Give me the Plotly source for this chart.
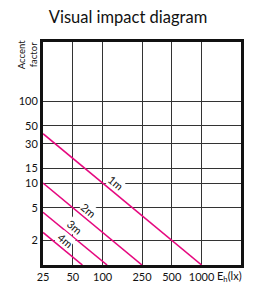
import math
import plotly.graph_objects as go

# ---- data ----
distances = ["1m", "2m", "3m", "4m"]
illum_start = [25, 25, 25, 25]
accent_start = [40, 10, 4.4, 2.5]
illum_end = [1000, 250, 111, 62.5]
accent_end = [1, 1, 1, 1]

x_tickvals = [25, 50, 100, 250, 500, 1000]
x_ticktext = ["25", "50", "100", "250", "500", "1000"]
y_tickvals = [2, 5, 10, 15, 30, 50, 100]
y_ticktext = ["2", "5", "10", "15", "30", "50", "100"]

# illuminance along each line where its label sits
label_at_x = [119, 64, 45.3, 37.2]

FONT = "Lato, 'Open Sans', sans-serif"
MAGENTA = "#e5097f"

fig = go.Figure()
for i, d in enumerate(distances):
    fig.add_trace(go.Scatter(
        x=[illum_start[i], illum_end[i]],
        y=[accent_start[i], accent_end[i]],
        mode="lines",
        line=dict(color=MAGENTA, width=1.6),
        showlegend=False,
        hoverinfo="skip",
    ))

annotations = []
for i, d in enumerate(distances):
    lx0, lx1 = math.log10(illum_start[i]), math.log10(illum_end[i])
    ly0, ly1 = math.log10(accent_start[i]), math.log10(accent_end[i])
    lx = math.log10(label_at_x[i])
    ly = ly0 + (ly1 - ly0) * (lx - lx0) / (lx1 - lx0)
    annotations.append(dict(
        x=lx, y=ly, xref="x", yref="y", text=d, showarrow=False,
        textangle=40, bgcolor="white", borderpad=0,
        xshift=5.5, yshift=6.5,
        font=dict(family=FONT, size=11, color="#111"),
    ))

annotations.append(dict(
    x=0.869, y=-0.052, xref="paper", yref="paper",
    text="E<sub>h</sub>(lx)", showarrow=False,
    xanchor="left", yanchor="middle",
    font=dict(family=FONT, size=11, color="#111"),
))
annotations.append(dict(
    x=-0.081, y=0.945, xref="paper", yref="paper",
    text="Accent<br>factor", showarrow=False, textangle=-90,
    xanchor="center", yanchor="middle",
    font=dict(family=FONT, size=9.5, color="#111"),
))

fig.update_layout(
    width=256, height=295,
    margin=dict(l=43, r=15, t=42, b=23),
    paper_bgcolor="white", plot_bgcolor="white",
    title=dict(text="Visual impact diagram", x=0.5, xanchor="center",
               y=1 - 17 / 295, yanchor="middle", yref="container",
               font=dict(family=FONT, size=16.5, color="#111")),
    annotations=annotations,
    font=dict(family=FONT, size=11, color="#111"),
)
fig.update_xaxes(
    type="log", range=[math.log10(25), math.log10(25) + 2.0],
    tickvals=x_tickvals, ticktext=x_ticktext,
    showgrid=True, gridcolor="#333", gridwidth=1,
    showline=True, linecolor="#111", linewidth=3, mirror=True,
    ticks="", zeroline=False, tickfont=dict(size=11),
)
fig.update_yaxes(
    type="log", range=[0, math.log10(527)],
    tickvals=y_tickvals, ticktext=y_ticktext,
    showgrid=True, gridcolor="#333", gridwidth=1,
    showline=True, linecolor="#111", linewidth=3, mirror=True,
    ticks="", zeroline=False, tickfont=dict(size=11),
)

fig.write_html("out.html", config={"displayModeBar": False},
               post_script="document.body.style.margin='0';document.body.style.padding='0';")
